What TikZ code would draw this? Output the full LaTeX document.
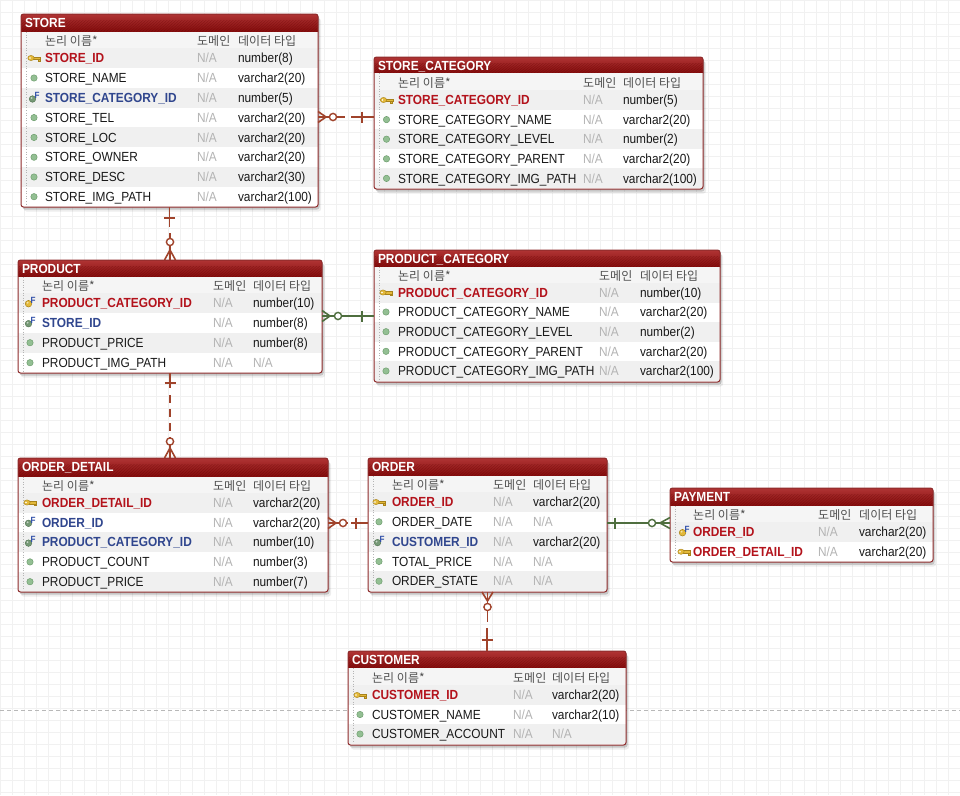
\documentclass[tikz,border=0pt]{standalone}
\usepackage{fontspec}
\setmainfont{Liberation Sans}[FakeStretch=0.9]
\newfontfamily\kofont{Noto Sans CJK KR}
\usetikzlibrary{calc,shadows}

\definecolor{hdtop}{HTML}{B03434}
\definecolor{hdbot}{HTML}{7E0606}
\definecolor{hatchc}{HTML}{5E0000}
\definecolor{tblborder}{HTML}{8E2B2B}
\definecolor{rowgrey}{HTML}{F0F0F0}
\definecolor{colgrey}{HTML}{F5F5F5}
\definecolor{pkred}{HTML}{B3121B}
\definecolor{fkblue}{HTML}{30468E}
\definecolor{nagrey}{HTML}{B4B4B4}
\definecolor{headgrey}{HTML}{505050}
\definecolor{attfill}{HTML}{93BF93}
\definecolor{attdraw}{HTML}{6E9E6E}
\definecolor{keyfill}{HTML}{E3B93A}
\definecolor{keydraw}{HTML}{A8821A}
\definecolor{fletter}{HTML}{2F4FA8}
\definecolor{relred}{HTML}{A0432B}
\definecolor{relgreen}{HTML}{4E6E3E}
\definecolor{gridc}{HTML}{F1F1F1}
\definecolor{pageline}{HTML}{B8B8B8}

\tikzset{
  tablebox/.style={fill=white, inner sep=0pt, outer sep=0pt, rounded corners=2.5pt,
    drop shadow={shadow xshift=1.5pt, shadow yshift=-2.5pt, opacity=0.16, fill=black},
    drop shadow={shadow xshift=3pt, shadow yshift=-4.5pt, opacity=0.07, fill=black}},
  hdr/.style={top color=hdtop, bottom color=hdbot},
  hatch/.style={draw=hatchc, line width=0.6pt, opacity=0.3},
  colband/.style={fill=colgrey},
  rowband/.style={fill=rowgrey},
  tblline/.style={draw=tblborder, line width=1pt, rounded corners=2.5pt},
  dotsep/.style={draw=nagrey, line width=0.6pt, dotted},
  txt/.style={anchor=base west, inner sep=0pt, outer sep=0pt, font=\fontsize{13.2}{15}\selectfont},
  titletext/.style={txt, text=white, font=\fontsize{13.2}{15}\selectfont\bfseries},
  colhead/.style={anchor=base west, inner sep=0pt, text=headgrey, font=\kofont\fontsize{12}{14}\selectfont},
  namepk/.style={txt, text=pkred, font=\fontsize{13.2}{15}\selectfont\bfseries},
  namepf/.style={txt, text=pkred, font=\fontsize{13.2}{15}\selectfont\bfseries},
  namefk/.style={txt, text=fkblue, font=\fontsize{13.2}{15}\selectfont\bfseries},
  nameat/.style={txt, text=black!90},
  natext/.style={txt, text=nagrey},
  typetext/.style={txt, text=black!90},
  fkletter/.style={inner sep=0pt, text=fletter, font=\fontsize{9}{9}\selectfont\bfseries},
  rel/.style={line width=1.6pt},
  relr/.style={rel, draw=relred},
  relg/.style={rel, draw=relgreen},
  gridline/.style={draw=gridc, line width=0.5pt},
  pagebreak/.style={draw=pageline, line width=0.8pt, dash pattern=on 4pt off 3pt},
}

\newcount\iconno

% current table: node name, left, right, icon x, name x, domain x, type x
\newcommand\setcols[7]{\def\tN{#1}\def\tL{#2}\def\tR{#3}\def\tIX{#4}\def\tNX{#5}\def\tDX{#6}\def\tTX{#7}}

% title, top, bottom, header bottom, column-header centre
\newcommand\ertable[5]{%
  \def\tH{#4}\def\tB{#3}%
  \node[tablebox, anchor=north west, minimum width={(\tR-\tL)*1pt}, minimum height={(#3-#2)*1pt}] (\tN) at (\tL,#2) {};
  \fill[hdr, rounded corners=2.5pt] (\tL,#2) rectangle (\tR,#4+3);
  \begin{scope}
    \clip (\tL,#2+6) rectangle (\tR,#4);
    \foreach \k in {0,3,...,420} \draw[hatch] (\tL+\k-20,#4) -- (\tL+\k,#2);
  \end{scope}
  \fill[colband] (\tL,#4) rectangle (\tR,#5+9);
  \node[titletext] (\tN-title) at (\tL+4,#2+13.7) {#1};
  \node[colhead] (\tN-h1) at (\tNX,#5+4.6) {논리 이름*};
  \node[colhead] (\tN-h2) at (\tDX,#5+4.6) {도메인};
  \node[colhead] (\tN-h3) at (\tTX,#5+4.6) {데이터 타입};
}

\newcommand\closetable{%
  \draw[dotsep] (\tL+5.5,\tH) -- (\tL+5.5,\tB-2);
  \draw[tblline] (\tN.north west) rectangle (\tN.south east);
}

% icons: plain attribute, primary key, foreign key, primary+foreign key
\newcommand\iconat[2]{\filldraw[fill=attfill, draw=attdraw, line width=0.5pt] (#1,#2) circle (3.2pt);}
\newcommand\iconpk[2]{%
  \filldraw[fill=keyfill, draw=keydraw, line width=0.4pt] (#1-1,#2-1.2) rectangle (#1+6.5,#2+1.2);
  \filldraw[fill=keyfill, draw=keydraw, line width=0.4pt] (#1+3.8,#2+1.2) rectangle (#1+6,#2+3);
  \filldraw[fill=keyfill, draw=keydraw, line width=0.4pt] (#1-3,#2) ellipse (3.2pt and 2.6pt);
  \fill[white] (#1-4,#2) circle (0.9pt);
}
\newcommand\iconfk[2]{%
  \global\advance\iconno by 1
  \filldraw[fill=attfill!80!black, draw=attdraw!70!black, line width=0.4pt] (#1-1.5,#2+1) circle (3.3pt);
  \fill[white, opacity=0.6] (#1-2.4,#2) circle (1pt);
  \node[fkletter] (fmark\the\iconno) at (#1+3.2,#2-2.4) {F};
}
\newcommand\iconpf[2]{%
  \global\advance\iconno by 1
  \filldraw[fill=keyfill, draw=keydraw, line width=0.5pt] (#1-1.5,#2+1) circle (3.3pt);
  \fill[white, opacity=0.6] (#1-2.4,#2) circle (1pt);
  \node[fkletter] (fmark\the\iconno) at (#1+3.2,#2-2.4) {F};
}

% row no, kind, centre y, name, domain, type
\newcommand\field[6]{%
  \ifodd#1\relax\fill[rowband] (\tL,#3-10) rectangle (\tR,#3+10);\fi
  \csname icon#2\endcsname{\tIX}{#3}%
  \node[name#2] (\tN-#1-name) at (\tNX,#3+4.7) {#4};
  \node[natext] (\tN-#1-dom) at (\tDX,#3+4.7) {#5};
  \node[typetext] (\tN-#1-type) at (\tTX,#3+4.7) {#6};
}
\newcommand\nagr{\textcolor{nagrey}{N/A}}

\begin{document}
\begin{tikzpicture}[x=1pt, y=-1pt]
\useasboundingbox (0,0) rectangle (960,795);
\fill[white] (0,0) rectangle (960,795);
\foreach \g in {0,12,...,960} \draw[gridline] (\g,0) -- (\g,795);
\foreach \g in {0,12,...,795} \draw[gridline] (0,\g) -- (960,\g);
\draw[pagebreak] (0,710) -- (960,710);

% STORE
\setcols{store}{21}{318}{34}{45}{197}{238}
\ertable{STORE}{14}{207}{32}{41}
\field{1}{pk}{58}{STORE\_ID}{N/A}{number(8)}
\field{2}{at}{78}{STORE\_NAME}{N/A}{varchar2(20)}
\field{3}{fk}{98}{STORE\_CATEGORY\_ID}{N/A}{number(5)}
\field{4}{at}{117.6}{STORE\_TEL}{N/A}{varchar2(20)}
\field{5}{at}{137.4}{STORE\_LOC}{N/A}{varchar2(20)}
\field{6}{at}{157.2}{STORE\_OWNER}{N/A}{varchar2(20)}
\field{7}{at}{177}{STORE\_DESC}{N/A}{varchar2(30)}
\field{8}{at}{196.7}{STORE\_IMG\_PATH}{N/A}{varchar2(100)}
\closetable

% STORE_CATEGORY
\setcols{storecat}{374}{703}{386.5}{398}{583}{623}
\ertable{STORE\_CATEGORY}{57}{189}{73}{82.5}
\field{1}{pk}{100}{STORE\_CATEGORY\_ID}{N/A}{number(5)}
\field{2}{at}{119.6}{STORE\_CATEGORY\_NAME}{N/A}{varchar2(20)}
\field{3}{at}{139.2}{STORE\_CATEGORY\_LEVEL}{N/A}{number(2)}
\field{4}{at}{158.8}{STORE\_CATEGORY\_PARENT}{N/A}{varchar2(20)}
\field{5}{at}{178.4}{STORE\_CATEGORY\_IMG\_PATH}{N/A}{varchar2(100)}
\closetable

% PRODUCT
\setcols{product}{18}{322}{30}{42}{213}{253}
\ertable{PRODUCT}{260}{373}{277}{286}
\field{1}{pf}{302.7}{PRODUCT\_CATEGORY\_ID}{N/A}{number(10)}
\field{2}{fk}{322.7}{STORE\_ID}{N/A}{number(8)}
\field{3}{at}{342.7}{PRODUCT\_PRICE}{N/A}{number(8)}
\field{4}{at}{362.7}{PRODUCT\_IMG\_PATH}{N/A}{\nagr}
\closetable

% PRODUCT_CATEGORY
\setcols{prodcat}{374}{720}{386}{398}{599}{640}
\ertable{PRODUCT\_CATEGORY}{250}{382}{267}{275.5}
\field{1}{pk}{292.5}{PRODUCT\_CATEGORY\_ID}{N/A}{number(10)}
\field{2}{at}{312}{PRODUCT\_CATEGORY\_NAME}{N/A}{varchar2(20)}
\field{3}{at}{331.7}{PRODUCT\_CATEGORY\_LEVEL}{N/A}{number(2)}
\field{4}{at}{351.3}{PRODUCT\_CATEGORY\_PARENT}{N/A}{varchar2(20)}
\field{5}{at}{371}{PRODUCT\_CATEGORY\_IMG\_PATH}{N/A}{varchar2(100)}
\closetable

% ORDER_DETAIL
\setcols{odetail}{18}{328}{30}{42}{213}{253}
\ertable{ORDER\_DETAIL}{458}{592}{476.5}{486}
\field{1}{pk}{502.5}{ORDER\_DETAIL\_ID}{N/A}{varchar2(20)}
\field{2}{fk}{522.3}{ORDER\_ID}{N/A}{varchar2(20)}
\field{3}{fk}{542.1}{PRODUCT\_CATEGORY\_ID}{N/A}{number(10)}
\field{4}{at}{561.9}{PRODUCT\_COUNT}{N/A}{number(3)}
\field{5}{at}{581.7}{PRODUCT\_PRICE}{N/A}{number(7)}
\closetable

% ORDER
\setcols{order}{368}{607}{379}{392}{493}{533}
\ertable{ORDER}{458}{592}{476}{484.5}
\field{1}{pk}{502}{ORDER\_ID}{N/A}{varchar2(20)}
\field{2}{at}{521.8}{ORDER\_DATE}{N/A}{\nagr}
\field{3}{fk}{541.6}{CUSTOMER\_ID}{N/A}{varchar2(20)}
\field{4}{at}{561.4}{TOTAL\_PRICE}{N/A}{\nagr}
\field{5}{at}{581.2}{ORDER\_STATE}{N/A}{\nagr}
\closetable

% PAYMENT
\setcols{payment}{670}{933}{684}{693}{818}{859}
\ertable{PAYMENT}{488}{562}{506}{514.5}
\field{1}{pf}{531.7}{ORDER\_ID}{N/A}{varchar2(20)}
\field{2}{pk}{551.7}{ORDER\_DETAIL\_ID}{N/A}{varchar2(20)}
\closetable

% CUSTOMER
\setcols{customer}{348}{626}{360}{372}{513}{552}
\ertable{CUSTOMER}{651}{745}{668}{677.5}
\field{1}{pk}{695}{CUSTOMER\_ID}{N/A}{varchar2(20)}
\field{2}{at}{714.5}{CUSTOMER\_NAME}{N/A}{varchar2(10)}
\field{3}{at}{734}{CUSTOMER\_ACCOUNT}{N/A}{\nagr}
\closetable

% STORE >o- - -| STORE_CATEGORY
\coordinate (c1a) at (store.east |- 0,117);
\coordinate (c1b) at (storecat.west |- 0,117);
\draw[relr] ($(c1a)+(0,-5.5)$) -- ($(c1a)+(8,0)$) -- ($(c1a)+(0,5.5)$);
\draw[relr] (c1a) -- ($(c1a)+(27,0)$);
\draw[relr] ($(c1b)+(-23,0)$) -- (c1b);
\draw[relr] ($(c1b)+(-12,-5.5)$) -- ($(c1b)+(-12,5.5)$);
\draw[relr, fill=white, line width=1.4pt] ($(c1a)+(15,0)$) circle (3.6pt);

% STORE |- - -o< PRODUCT
\coordinate (c2a) at (store.south);
\coordinate (c2b) at (product.north);
\draw[relr] (c2a) -- ($(c2a)+(0,20)$);
\draw[relr] ($(c2a)+(-5.5,11)$) -- ($(c2a)+(5.5,11)$);
\draw[relr] ($(c2b)+(0,-27)$) -- (c2b);
\draw[relr] ($(c2b)+(-5.5,0)$) -- ($(c2b)+(0,-10)$) -- ($(c2b)+(5.5,0)$);
\draw[relr, fill=white, line width=1.4pt] ($(c2b)+(0,-18)$) circle (3.6pt);

% PRODUCT >o---| PRODUCT_CATEGORY
\coordinate (c3a) at (product.east |- 0,316);
\coordinate (c3b) at (prodcat.west |- 0,316);
\draw[relg] (c3a) -- (c3b);
\draw[relg] ($(c3a)+(0,-5.5)$) -- ($(c3a)+(8,0)$) -- ($(c3a)+(0,5.5)$);
\draw[relg] ($(c3b)+(-12,-5.5)$) -- ($(c3b)+(-12,5.5)$);
\draw[relg, fill=white, line width=1.4pt] ($(c3a)+(16,0)$) circle (3.6pt);

% PRODUCT |- - -o< ORDER_DETAIL
\coordinate (c4a) at (product.south);
\coordinate (c4b) at (odetail.north -| product.south);
\draw[relr] (c4a) -- ($(c4a)+(0,15)$);
\draw[relr] ($(c4a)+(-5.5,10)$) -- ($(c4a)+(5.5,10)$);
\draw[relr, dash pattern=on 8pt off 6pt] ($(c4a)+(0,22)$) -- ($(c4b)+(0,-27)$);
\draw[relr] ($(c4b)+(0,-21)$) -- (c4b);
\draw[relr] ($(c4b)+(-5.5,0)$) -- ($(c4b)+(0,-10)$) -- ($(c4b)+(5.5,0)$);
\draw[relr, fill=white, line width=1.4pt] ($(c4b)+(0,-16.5)$) circle (3.6pt);

% ORDER_DETAIL >o-|- ORDER
\coordinate (c5a) at (odetail.east |- 0,523);
\coordinate (c5b) at (order.west |- 0,523);
\draw[relr] ($(c5a)+(0,-5.5)$) -- ($(c5a)+(8,0)$) -- ($(c5a)+(0,5.5)$);
\draw[relr] (c5a) -- ($(c5a)+(20,0)$);
\draw[relr] ($(c5b)+(-17,0)$) -- (c5b);
\draw[relr] ($(c5b)+(-12,-5.5)$) -- ($(c5b)+(-12,5.5)$);
\draw[relr, fill=white, line width=1.4pt] ($(c5a)+(15,0)$) circle (3.6pt);

% ORDER |---o< PAYMENT
\coordinate (c6a) at (order.east |- 0,523);
\coordinate (c6b) at (payment.west |- 0,523);
\draw[relg] (c6a) -- (c6b);
\draw[relg] ($(c6a)+(8,-5.5)$) -- ($(c6a)+(8,5.5)$);
\draw[relg] ($(c6b)+(0,-5.5)$) -- ($(c6b)+(-10,0)$) -- ($(c6b)+(0,5.5)$);
\draw[relg, fill=white, line width=1.4pt] ($(c6b)+(-18,0)$) circle (3.6pt);

% ORDER >o- -| CUSTOMER
\coordinate (c7a) at (order.south);
\coordinate (c7b) at (customer.north);
\draw[relr] ($(c7a)+(-5.5,0)$) -- ($(c7a)+(0,9)$) -- ($(c7a)+(5.5,0)$);
\draw[relr] (c7a) -- ($(c7a)+(0,30)$);
\draw[relr] ($(c7b)+(0,-23)$) -- (c7b);
\draw[relr] ($(c7b)+(-5.5,-11)$) -- ($(c7b)+(5.5,-11)$);
\draw[relr, fill=white, line width=1.4pt] ($(c7a)+(0,15)$) circle (3.6pt);
\end{tikzpicture}
\end{document}
